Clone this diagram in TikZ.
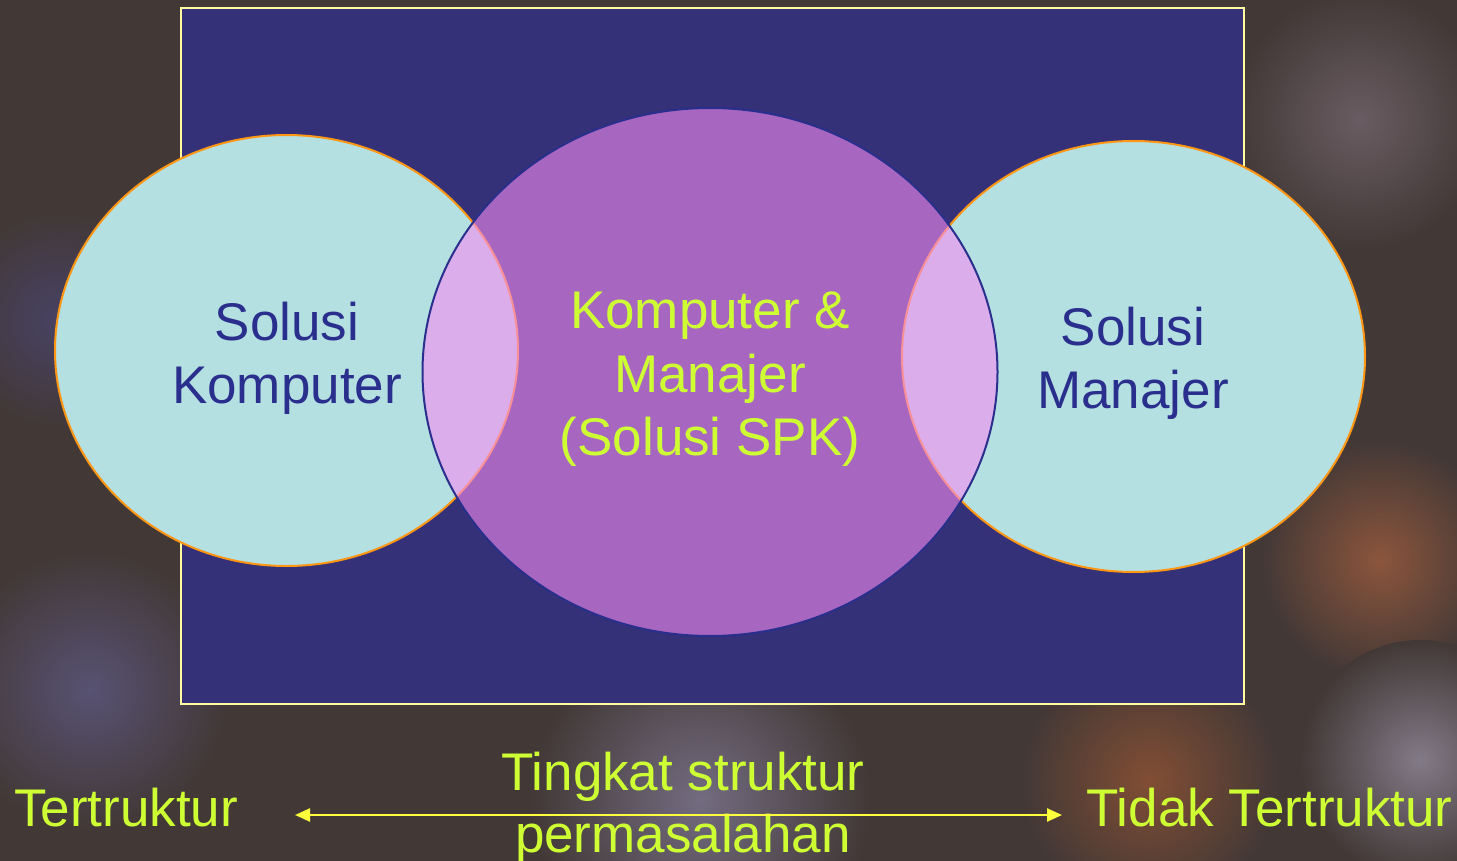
\documentclass[tikz,border=0pt]{standalone}
\usepackage{fontspec}
\setmainfont{Liberation Sans}
\usetikzlibrary{arrows.meta,shapes.geometric}
\definecolor{bgbase}{RGB}{66,56,54}
\definecolor{framefill}{RGB}{52,49,120}
\definecolor{frameline}{RGB}{255,255,160}
\definecolor{cyanfill}{RGB}{180,224,226}
\definecolor{orangeline}{RGB}{255,150,20}
\definecolor{pinkfill}{RGB}{245,140,240}
\definecolor{navytext}{RGB}{42,46,140}
\definecolor{limetext}{RGB}{206,255,51}
\definecolor{arrowyellow}{RGB}{255,255,60}
\tikzset{
  side/.style={ellipse, draw=orangeline, line width=2pt, fill=cyanfill, inner sep=0pt, minimum width=463pt, minimum height=431pt},
  mid/.style={ellipse, draw=navytext, line width=2pt, fill=pinkfill, fill opacity=0.6, draw opacity=1, inner sep=0pt, minimum width=575pt, minimum height=528pt},
  big/.style={font=\fontsize{53}{64}\selectfont, inner sep=0pt, anchor=base},
  navy/.style={big, text=navytext},
  lime/.style={big, text=limetext},
  blob/.style={shading=radial, outer color=bgbase}
}
\begin{document}
\begin{tikzpicture}[x=1pt,y=-1pt]
\useasboundingbox (0,0) rectangle (1457,861);
\fill[bgbase] (0,0) rectangle (1457,861);
% soft background blobs
\shade[blob, inner color={rgb,255:red,88;green,82;blue,115}] (90,690) circle[radius=140];
\shade[blob, inner color={rgb,255:red,115;green,108;blue,128}] (700,800) circle[radius=170];
\shade[blob, inner color={rgb,255:red,140;green,85;blue,60}] (1380,560) circle[radius=120];
\shade[blob, inner color={rgb,255:red,130;green,122;blue,135}] (1420,760) circle[radius=120];
\shade[blob, inner color={rgb,255:red,130;green,78;blue,52}] (1150,780) circle[radius=130];
\shade[blob, inner color={rgb,255:red,105;green,92;blue,98}] (1360,120) circle[radius=130];
\shade[blob, inner color={rgb,255:red,72;green,66;blue,100}] (60,320) circle[radius=110];
% frame
\draw[draw=frameline, line width=2.5pt, fill=framefill] (181,8) rectangle (1244,704);
% circles
\node[side] (left) at (286.5,350.5) {};
\node[side] (right) at (1133.5,356.5) {};
\node[mid] (middle) at (710,372) {};
% texts
\node[navy] (l1) at (287,340) {Solusi};
\node[navy] (l2) at (287,403) {Komputer};
\node[lime] (m1) at (710,328) {Komputer \&};
\node[lime] (m2) at (710,392) {Manajer};
\node[lime] (m3) at (710,455) {(Solusi SPK)};
\node[navy] (r1) at (1133,345) {Solusi};
\node[navy] (r2) at (1133,408) {Manajer};
% bottom axis
\node[lime] (tl) at (126,826) {Tertruktur};
\node[lime] (tr) at (1269.5,826) {Tidak Tertruktur};
\node[lime] (b1) at (683,790) {Tingkat struktur};
\node[lime] (b2) at (683,852) {permasalahan};
\coordinate (aL) at (295,815);
\coordinate (aR) at (1062,815);
\draw[arrowyellow, line width=2.4pt, {Triangle[length=15pt,width=13pt]}-{Triangle[length=15pt,width=13pt]}] (aL) -- (aR);
\end{tikzpicture}
\end{document}
